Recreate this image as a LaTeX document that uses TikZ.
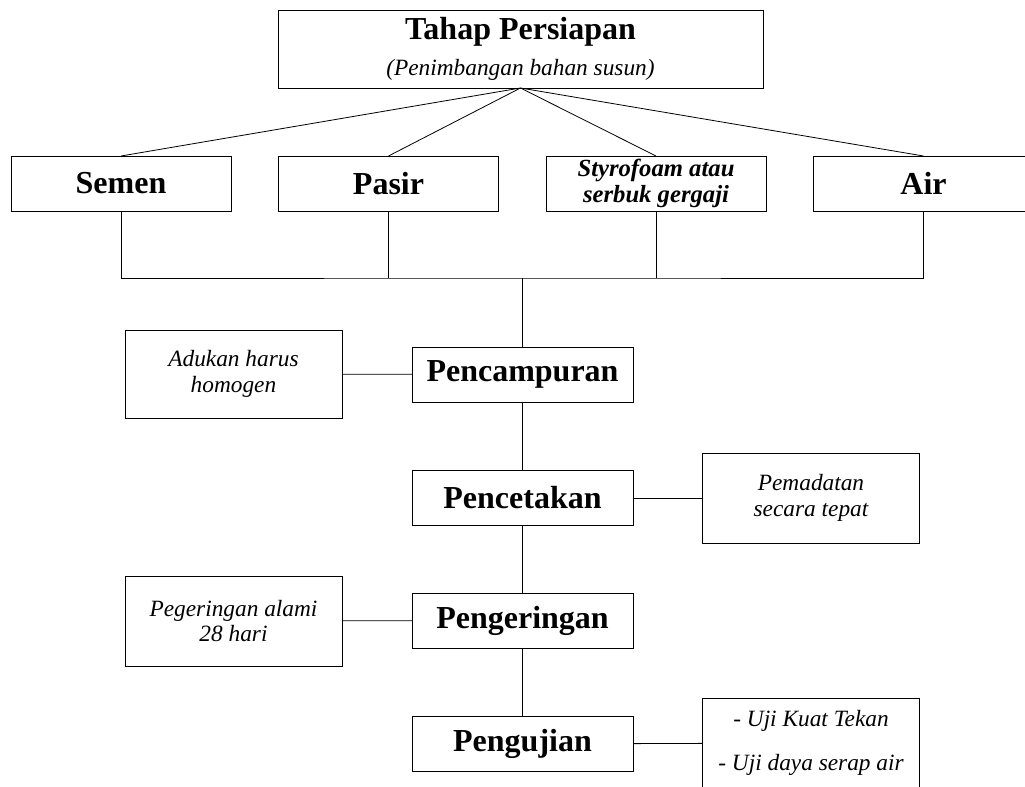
\documentclass[tikz,border=0pt]{standalone}
\usepackage{fontspec}
\setmainfont{Liberation Serif}
\newcommand\bigbold{\bfseries\fontsize{24}{26}\selectfont}
\newcommand\noteit{\itshape\fontsize{17.5}{19}\selectfont}
\newcommand\stuffit{\bfseries\itshape\fontsize{18.5}{20}\selectfont}
\tikzset{
  box/.style={draw, line width=0.6pt, inner sep=0pt, outer sep=0pt, align=center},
  stuff/.style={box, minimum width=165pt, minimum height=41.25pt, font=\bigbold},
  stage/.style={box, minimum width=165.75pt, minimum height=41.25pt, font=\bigbold},
  note/.style={box, minimum width=162.75pt, minimum height=67pt, font=\noteit},
  link/.style={line width=0.6pt}
}
\begin{document}
\begin{tikzpicture}[x=0.75pt,y=-0.75pt]
\useasboundingbox (0,0) rectangle (1025,786);
	\node [box, minimum width=363.75pt, minimum height=58.5pt] (TP) at (520.5,49)
	  {{\bigbold Tahap Persiapan}\\[9pt]{\noteit (Penimbangan bahan susun)}};
	\node [stuff] (SE) at (121,183.5) {Semen};
	\node [stuff] (PA) at (388.5,183.5) {Pasir};
	\node [stuff, font=\stuffit] (ST) at (656,183.5) {Styrofoam atau\\serbuk gergaji};
	\node [stuff] (AI) at (923.5,183.5) {Air};
	\coordinate (BUS) at (522.5,278);
	\node [stage] (PC) at (522.5,374.5) {Pencampuran};
	\node [stage] (PK) at (522.5,498) {Pencetakan};
	\node [stage] (PG) at (522.5,620.5) {Pengeringan};
	\node [stage] (PU) at (522.5,744) {Pengujian};
	\node [note, minimum height=66pt] (AH) at (233.5,374) {Adukan harus\\homogen};
	\node [note, minimum height=67.5pt] (PM) at (811,498) {Pemadatan\\secara tepat};
	\node [note, minimum height=67.5pt] (PL) at (233.5,621) {Pegeringan alami\\28 hari};
	\node [note, minimum height=67.5pt] (UJ) at (811,743) {- Uji Kuat Tekan\\[14pt]- Uji daya serap air};
	\draw [link] (TP.south) -- (SE.north);
	\draw [link] (TP.south) -- (PA.north);
	\draw [link] (TP.south) -- (ST.north);
	\draw [link] (TP.south) -- (AI.north);
	\draw [link] (SE.south) |- (BUS) -| (AI.south);
	\draw [link] (PA.south) -- (PA.south |- BUS);
	\draw [link] (ST.south) -- (ST.south |- BUS);
	\draw [link] (BUS) -- (PC.north);
	\draw [link] (PC) -- (PK);
	\draw [link] (PK) -- (PG);
	\draw [link] (PG) -- (PU);
	\draw [link] (AH) -- (PC);
	\draw [link] (PK) -- (PM);
	\draw [link] (PL) -- (PG);
	\draw [link] (PU) -- (UJ);
\end{tikzpicture}
\end{document}
